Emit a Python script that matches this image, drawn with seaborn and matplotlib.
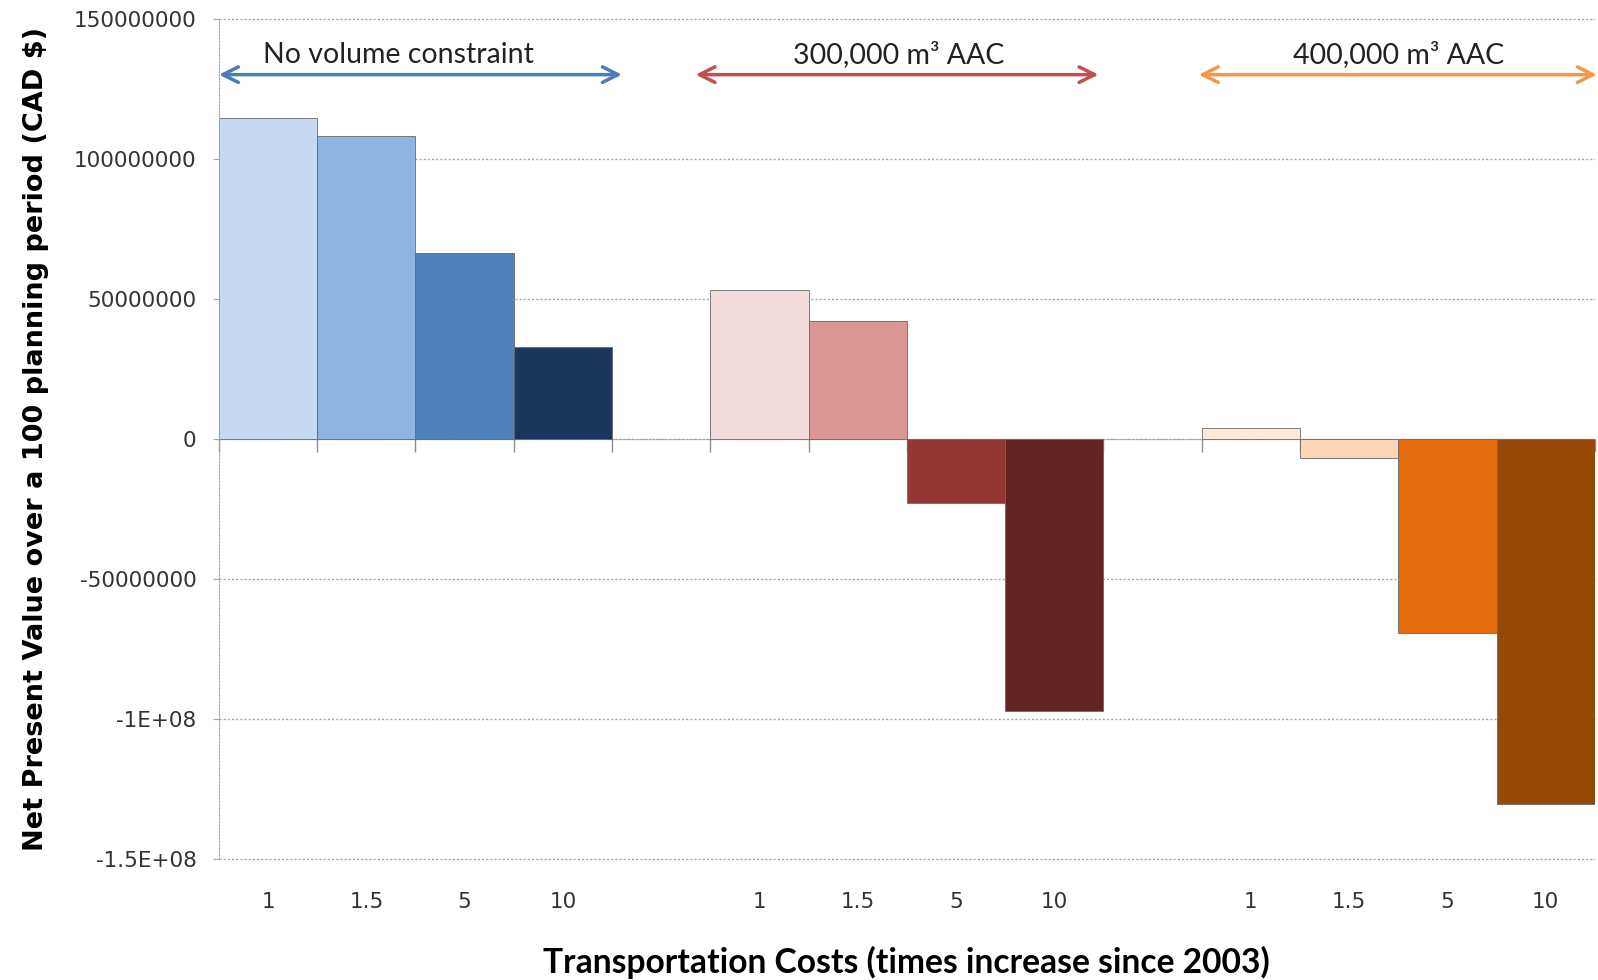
import matplotlib
matplotlib.use("Agg")
import matplotlib.pyplot as plt
import seaborn as sns
import pandas as pd
import numpy as np

# Transportation cost multipliers (times increase since 2003) and scenarios
cost_labels = ["1", "1.5", "5", "10"]
scenarios = ["No volume constraint", "300,000 m³ AAC", "400,000 m³ AAC"]

# Net present value (CAD $) per scenario, one value per cost multiplier
npv_no_constraint = [114.5e6, 108.0e6, 66.5e6, 32.7e6]
npv_aac_300k = [53.0e6, 42.2e6, -22.9e6, -97.0e6]
npv_aac_400k = [4.0e6, -6.9e6, -69.5e6, -130.5e6]

colors_no_constraint = ["#c6d9f1", "#8eb4e3", "#4f81bd", "#1b375e"]
colors_aac_300k = ["#f2dcdb", "#d99694", "#953735", "#632523"]
colors_aac_400k = ["#fdeada", "#fcd5b5", "#e46c0a", "#984807"]
arrow_colors = ["#4a7ebb", "#c0504d", "#f79646"]

y_ticks = [150e6, 100e6, 50e6, 0, -50e6, -100e6, -150e6]
y_tick_labels = ["150000000", "100000000", "50000000", "0",
                 "-50000000", "-1E+08", "-1.5E+08"]

# Build a long table: 4 bars per scenario, one empty slot between scenarios
groups = [npv_no_constraint, npv_aac_300k, npv_aac_400k]
group_colors = [colors_no_constraint, colors_aac_300k, colors_aac_400k]
rows, palette = [], {}
for g, (vals, cols) in enumerate(zip(groups, group_colors)):
    for i, (v, c) in enumerate(zip(vals, cols)):
        slot = g * 5 + i
        rows.append({"slot": slot, "npv": v})
        palette[slot] = c
df = pd.DataFrame(rows)
n_slots = 14
order = list(range(n_slots))

fig = plt.figure(figsize=(15.98, 9.8), dpi=100)
ax = fig.add_axes([0.137, 0.1235, 0.861, 0.8575])

sns.barplot(data=df, x="slot", y="npv", hue="slot", order=order,
            palette=palette, width=1.0, legend=False, ax=ax,
            edgecolor="#6a6a6a", linewidth=0.6, saturation=1.0)

ax.set_xlim(-0.5, n_slots - 0.5)
ax.set_ylim(-150e6, 150e6)

# Gridlines and axes styling
ax.set_yticks(y_ticks)
ax.set_yticklabels(y_tick_labels)
ax.yaxis.grid(True, linestyle=(0, (1.5, 1.5)), color="#a6a6a6", linewidth=1.0)
for gl in ax.yaxis.get_gridlines():
    gl.set_clip_on(False)
ax.set_axisbelow(True)
for s in ["top", "right", "bottom"]:
    ax.spines[s].set_visible(False)
ax.spines["left"].set_linestyle((0, (1.5, 1.5)))
ax.spines["left"].set_color("#a6a6a6")
ax.tick_params(axis="y", length=4, color="#a6a6a6", labelsize=15.5,
               labelcolor="#333333", pad=12)

# Category labels along the bottom, with empty gaps between scenarios
x_labels = []
for g in range(3):
    x_labels += cost_labels
    if g < 2:
        x_labels.append("")
ax.set_xticks(order)
ax.set_xticklabels(x_labels)
ax.tick_params(axis="x", length=0, labelsize=15.5, labelcolor="#333333", pad=24)

# Category axis crossing at zero with ticks between categories
zero_axis = ax.secondary_xaxis(0.5)
zero_axis.set_xticks(np.arange(-0.5, n_slots, 1.0))
zero_axis.set_xticklabels([])
zero_axis.tick_params(axis="x", direction="in", length=9, color="#8c8c8c", width=1.0)
for s in ["top", "bottom"]:
    zero_axis.spines[s].set_color("#a6a6a6")
    zero_axis.spines[s].set_linestyle((0, (1.5, 1.5)))

ax.set_xlabel("Transportation Costs (times increase since 2003)",
              fontsize=24.2, fontweight="bold", family="Lato", labelpad=24)
ax.set_ylabel("Net Present Value over a 100 planning period (CAD $)",
              fontsize=19.5, fontweight="bold", family="DejaVu Sans", labelpad=18)

# Scenario annotations with double-headed arrows
arrow_spans = [(-0.5, 3.6), (4.35, 8.45), (9.47, 13.52)]
text_x = [1.33, 6.42, 11.5]
for name, (x0, x1), tx, col in zip(scenarios, arrow_spans, text_x, arrow_colors):
    ax.annotate("", xy=(x0, 130e6), xytext=(x1, 130e6),
                arrowprops=dict(arrowstyle="<->", color=col, lw=2.5,
                                mutation_scale=28, shrinkA=0, shrinkB=0),
                annotation_clip=False)
    ax.text(tx, 137e6, name, ha="center", va="center", fontsize=20.5,
            color="#222222", family="Lato")

fig.savefig("out.png", dpi=100)
